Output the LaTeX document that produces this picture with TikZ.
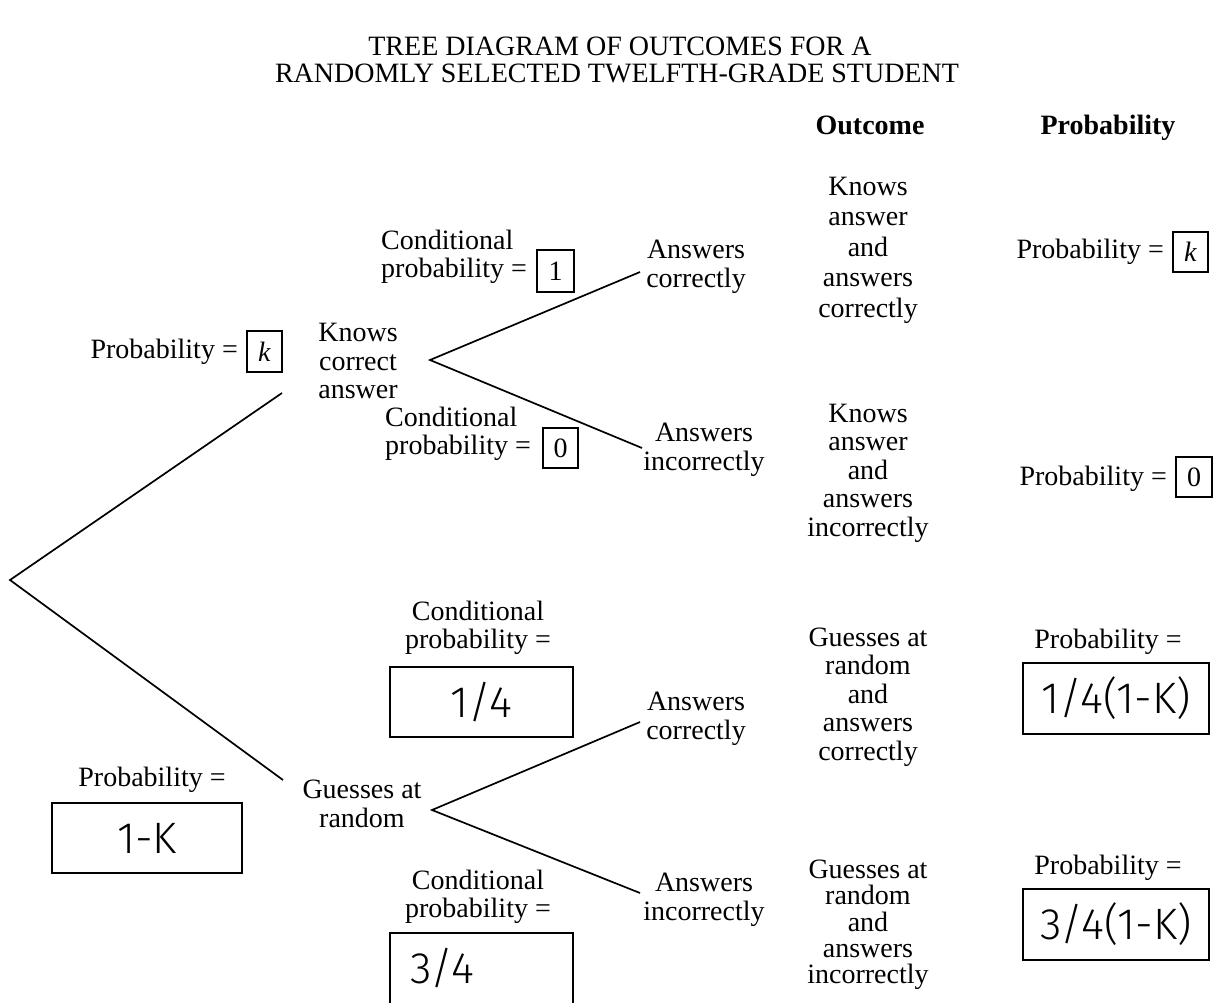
\documentclass[tikz,border=0pt]{standalone}
\usepackage{fontspec}
\setmainfont{Liberation Serif}
\newfontfamily\handfont{Fira Sans Light}
\begin{document}
\begin{tikzpicture}[x=1pt,y=-1pt,
  txt/.style={font=\fontsize{28}{28.5}\selectfont, align=center, inner sep=0pt},
  ltxt/.style={font=\fontsize{28}{28.5}\selectfont, align=left, inner sep=0pt},
  titletxt/.style={font=\fontsize{28}{28}\selectfont, inner sep=0pt},
  headtxt/.style={font=\fontsize{28}{28}\selectfont\bfseries, inner sep=0pt, anchor=base},
  smallbox/.style={draw, line width=1.4pt, inner sep=0pt, font=\fontsize{28}{28}\selectfont},
  bigbox/.style={draw, line width=1.4pt, inner sep=0pt, font=\fontsize{44}{46}\selectfont\handfont},
  branch/.style={line width=1.7pt}]
\useasboundingbox (0,0) rectangle (1218,1002);
\fill[white] (0,0) rectangle (1218,1002);

% title and headers
\node[titletxt] (t1) at (620,46) {TREE DIAGRAM OF OUTCOMES FOR A};
\node[titletxt] (t2) at (617,73) {RANDOMLY SELECTED TWELFTH-GRADE STUDENT};
\node[headtxt] (hout) at (870,134) {Outcome};
\node[headtxt] (hprob) at (1108,134) {Probability};

% tree points
\coordinate (root) at (10,580);
\coordinate (kin) at (282,393);
\coordinate (gin) at (283,780);
\coordinate (fk) at (430,360);
\coordinate (fg) at (432,810);
\coordinate (ac1in) at (640,272);
\coordinate (ai1in) at (642,448);
\coordinate (ac2in) at (640,722);
\coordinate (ai2in) at (640,893);

% first level
\node[txt] (kca) at (358,361) {Knows\\correct\\answer};
\node[txt] (gar) at (362,804) {Guesses at\\random};
\node[txt, anchor=east] (pkl) at (238,352) {Probability =};
\node[smallbox, minimum width=35pt, minimum height=41pt] (pkb) at (264.5,351.5) {\textit{k}};
\node[txt] (pgl) at (152,780) {Probability =};
\node[bigbox, minimum width=190pt, minimum height=70pt] (pgb) at (147,838) {1-K};

% conditional probabilities
\node[ltxt, anchor=west] (c1) at (381,257) {Conditional\\probability =};
\node[smallbox, minimum width=37pt, minimum height=42pt] (c1b) at (555.5,271) {1};
\node[ltxt, anchor=west] (c0) at (385,434) {Conditional\\probability =};
\node[smallbox, minimum width=35pt, minimum height=40pt] (c0b) at (560.5,448) {0};
\node[txt] (c14) at (478,628) {Conditional\\probability =};
\node[bigbox, minimum width=183pt, minimum height=70pt] (c14b) at (481.5,702) {1/4};
\node[txt] (c34) at (478,897) {Conditional\\probability =};
\node[bigbox, minimum width=183pt, minimum height=90pt] (c34b) at (481.5,978) {};
\node[font=\fontsize{44}{46}\selectfont\handfont, inner sep=0pt] (c34t) at (442,968) {3/4};

% second level
\node[txt] (ac1) at (696,267) {Answers\\correctly};
\node[txt] (ai1) at (704,450) {Answers\\incorrectly};
\node[txt] (ac2) at (696,719) {Answers\\correctly};
\node[txt] (ai2) at (704,900) {Answers\\incorrectly};

% outcomes
\node[txt, font=\fontsize{28}{30.5}\selectfont] (o1) at (868,250) {Knows\\answer\\and\\answers\\correctly};
\node[txt] (o2) at (868,473) {Knows\\answer\\and\\answers\\incorrectly};
\node[txt] (o3) at (868,697) {Guesses at\\random\\and\\answers\\correctly};
\node[txt, font=\fontsize{28}{26.3}\selectfont] (o4) at (868,925) {Guesses at\\random\\and\\answers\\incorrectly};

% probabilities
\node[txt, anchor=east] (p1) at (1164,252) {Probability =};
\node[smallbox, minimum width=35pt, minimum height=40pt] (p1b) at (1190.5,252) {\textit{k}};
\node[txt, anchor=east] (p0) at (1167,479) {Probability =};
\node[smallbox, minimum width=36pt, minimum height=40pt] (p0b) at (1194,477) {0};
\node[txt] (p3) at (1108,642) {Probability =};
\node[bigbox, minimum width=186pt, minimum height=71pt] (p3b) at (1116,698.5) {1/4(1-K)};
\node[txt] (p4) at (1108,868) {Probability =};
\node[bigbox, minimum width=186pt, minimum height=71pt] (p4b) at (1116,924.5) {3/4(1-K)};

% branches
\draw[branch] (kin) -- (root) -- (gin);
\draw[branch] (ac1in) -- (fk) -- (ai1in);
\draw[branch] (ac2in) -- (fg) -- (ai2in);
\end{tikzpicture}
\end{document}
